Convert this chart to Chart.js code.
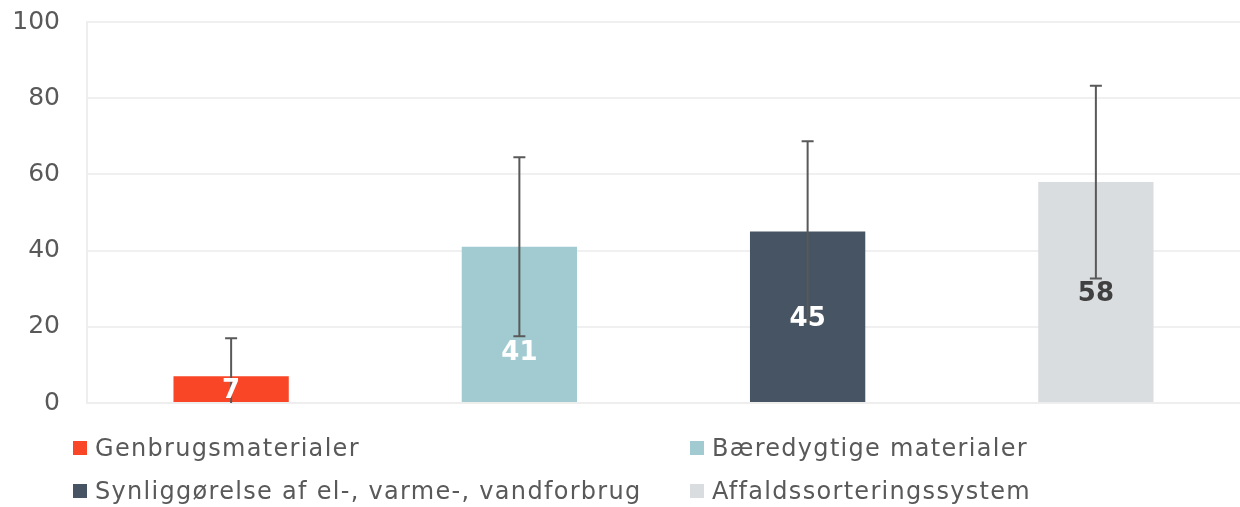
<!DOCTYPE html>
<html>
<head>
<meta charset="utf-8">
<script src="https://cdn.jsdelivr.net/npm/chart.js@4/dist/chart.umd.min.js"></script>
<style>
    body { margin: 0; background: #fff; font-family: "DejaVu Sans", Verdana, sans-serif; }
    #wrap { position: relative; width: 1240px; height: 507px; overflow: hidden; }
    #chart { position: absolute; left: 0; top: -20px; }
    #legend { position: absolute; left: 73px; top: 433px; display: grid;
              grid-template-columns: 617px 500px; row-gap: 14px; }
    .item { display: flex; align-items: center; font-size: 24px; letter-spacing: 1.3px; color: #595959; height: 29px; }
    .box { width: 14px; height: 14px; margin-right: 8px; }
</style>
</head>
<body>
<div id="wrap">
    <canvas id="chart" width="1240" height="465"></canvas>
    <div id="legend"></div>
</div>
<script>
// chart data
const categories = ["Genbrugsmaterialer", "Bæredygtige materialer", "Synliggørelse af el-, varme-, vandforbrug", "Affaldssorteringssystem"];
const values = [7, 41, 45, 58];
const errors = [10, 23.5, 23.7, 25.3];
const barColors = ["#f84627", "#a2cbd1", "#465463", "#dadde0"];
const labelColors = ["#ffffff", "#ffffff", "#ffffff", "#404040"];
const yTicks = [0, 20, 40, 60, 80, 100];

// error bars + value labels
const extras = {
    id: "extras",
    afterDatasetsDraw(chart, args, opts) {
        const ctx = chart.ctx;
        const y = chart.scales.y;
        const area = chart.chartArea;
        const meta = chart.getDatasetMeta(0);
        ctx.save();
        ctx.beginPath();
        ctx.rect(area.left, area.top, area.right - area.left, area.bottom - area.top);
        ctx.clip();
        ctx.strokeStyle = "#595959";
        ctx.lineWidth = 2;
        meta.data.forEach((bar, i) => {
            const yHi = y.getPixelForValue(values[i] + errors[i]);
            const yLo = y.getPixelForValue(values[i] - errors[i]);
            ctx.beginPath();
            ctx.moveTo(bar.x, yHi); ctx.lineTo(bar.x, yLo);
            ctx.moveTo(bar.x - 6, yHi); ctx.lineTo(bar.x + 6, yHi);
            ctx.moveTo(bar.x - 6, yLo); ctx.lineTo(bar.x + 6, yLo);
            ctx.stroke();
        });
        ctx.restore();

        ctx.save();
        ctx.font = "bold 26px 'DejaVu Sans'";
        ctx.textAlign = "center";
        ctx.textBaseline = "middle";
        meta.data.forEach((bar, i) => {
            ctx.fillStyle = labelColors[i];
            const mid = (bar.y + bar.base) / 2 + (opts.shift[i] || 0);
            ctx.fillText(String(values[i]), bar.x, mid + 2);
        });
        ctx.restore();
    }
};

new Chart(document.getElementById("chart"), {
    type: "bar",
    data: {
        labels: categories,
        datasets: [{
            data: values,
            backgroundColor: barColors,
            barPercentage: 0.4,
            categoryPercentage: 1.0,
        }],
    },
    options: {
        responsive: false,
        animation: false,
        layout: { padding: { top: 0, right: 0, left: 0, bottom: 0 } },
        plugins: {
            legend: { display: false },
            tooltip: { enabled: false },
            extras: { shift: [0, 27, 0, 0] },
        },
        scales: {
            x: {
                grid: { display: false },
                border: { color: "#eeeeee", width: 2 },
                ticks: { display: false },
            },
            y: {
                min: 0,
                max: 100,
                afterBuildTicks: (s) => { s.ticks = yTicks.map(v => ({ value: v })); },
                afterFit: (s) => { s.width = 87; },
                grid: { color: "#f0f0f0", lineWidth: 2, drawTicks: false },
                border: { color: "#eeeeee", width: 2 },
                ticks: {
                    color: "#595959",
                    padding: 27,
                    font: { family: "DejaVu Sans", size: 25 },
                },
            },
        },
    },
    plugins: [extras],
});

// legend in two columns
const legend = document.getElementById("legend");
categories.forEach((name, i) => {
    const item = document.createElement("div");
    item.className = "item";
    item.innerHTML = '<span class="box" style="background:' + barColors[i] + '"></span><span>' + name + '</span>';
    legend.appendChild(item);
});
</script>
</body>
</html>
